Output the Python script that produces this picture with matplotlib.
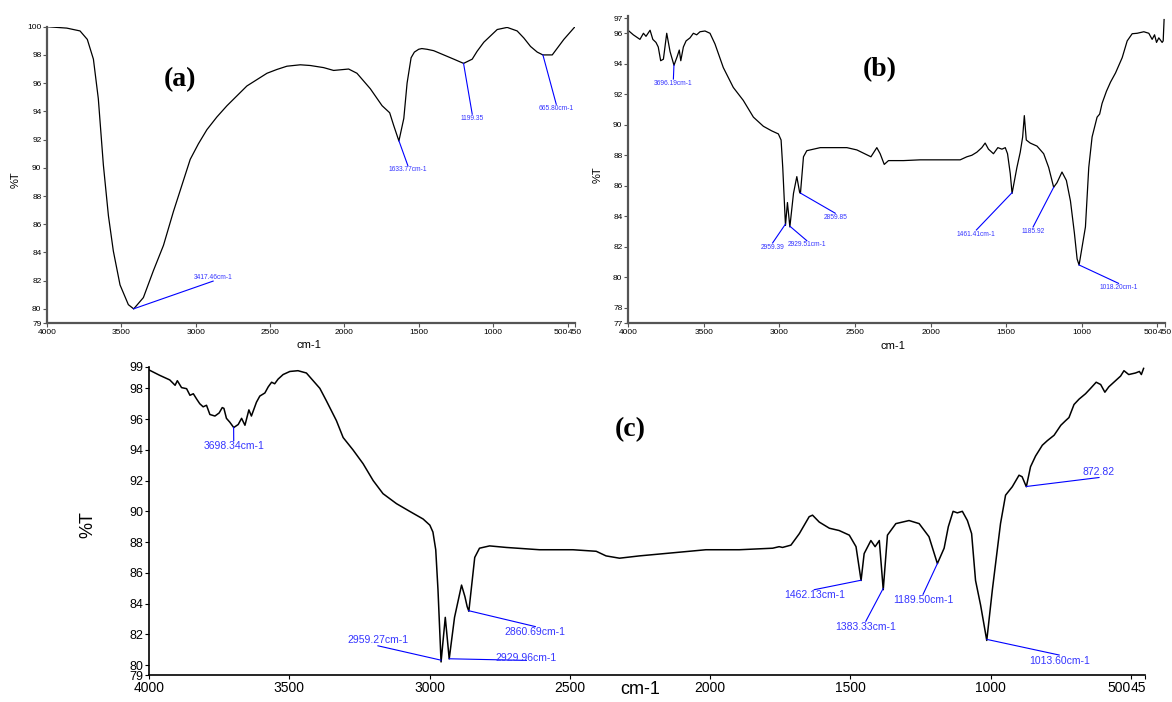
import numpy as np
import matplotlib
matplotlib.use("Agg")
import matplotlib.pyplot as plt

plt.rcParams['font.family'] = ['Liberation Sans', 'DejaVu Sans']

# ---- spectrum (a)
wn_a = [4000, 3867, 3778, 3729, 3688, 3655, 3621, 3587, 3554, 3509, 3453, 3417,
        3352, 3285, 3217, 3150, 3037, 2982, 2925, 2858, 2790, 2723, 2656, 2521,
        2454, 2387, 2297, 2230, 2140, 2073, 1972, 1916, 1826, 1747, 1696, 1669,
        1634, 1601, 1579, 1552, 1530, 1501, 1480, 1445, 1400, 1355, 1265, 1199,
        1141, 1108, 1063, 973, 906, 839, 794, 749, 704, 666, 603, 525, 450]
t_a = [100.0, 99.9, 99.7, 99.1, 97.7, 94.9, 90.2, 86.6, 84.1, 81.7, 80.3, 80.0,
       80.8, 82.7, 84.5, 86.9, 90.6, 91.7, 92.7, 93.6, 94.4, 95.1, 95.8, 96.7,
       96.97, 97.2, 97.3, 97.25, 97.1, 96.9, 97.0, 96.7, 95.6, 94.4, 93.9, 93.0,
       91.9, 93.5, 96.0, 97.8, 98.2, 98.4, 98.45, 98.4, 98.3, 98.1, 97.7, 97.4,
       97.7, 98.26, 98.9, 99.8, 99.95, 99.7, 99.2, 98.6, 98.2, 98.0, 98.0, 99.1,
       100.0]

# ---- spectrum (b)
wn_b = [4000, 3965, 3921, 3898, 3881, 3854, 3836, 3815, 3800, 3784, 3766, 3744,
        3722, 3696, 3674, 3661, 3651, 3634, 3616, 3590, 3568, 3546, 3524, 3491,
        3458, 3425, 3370, 3304, 3238, 3171, 3105, 3050, 3006, 2988, 2977, 2959,
        2946, 2930, 2906, 2884, 2866, 2860, 2840, 2818, 2729, 2553, 2487, 2394,
        2355, 2333, 2306, 2278, 2179, 2069, 1959, 1848, 1804, 1760, 1727, 1694,
        1661, 1639, 1617, 1584, 1555, 1528, 1506, 1491, 1473, 1461, 1429, 1407,
        1391, 1380, 1367, 1341, 1296, 1252, 1219, 1186, 1164, 1131, 1102, 1075,
        1049, 1031, 1018, 976, 954, 932, 899, 882, 866, 837, 810, 777, 733, 700,
        667, 634, 590, 557, 535, 519, 506, 491, 469, 462, 456]
t_b = [96.2, 95.9, 95.6, 96.0, 95.8, 96.2, 95.6, 95.4, 95.1, 94.2, 94.3, 96.0,
       94.8, 93.9, 94.5, 94.9, 94.2, 95.1, 95.5, 95.7, 96.0, 95.9, 96.1, 96.15,
       96.0, 95.3, 93.75, 92.45, 91.6, 90.5, 89.9, 89.6, 89.4, 89.0, 87.2, 83.4,
       84.9, 83.3, 85.5, 86.6, 85.6, 85.5, 87.9, 88.3, 88.5, 88.5, 88.35, 87.9,
       88.5, 88.1, 87.4, 87.65, 87.65, 87.7, 87.7, 87.7, 87.7, 87.9, 88.0, 88.2,
       88.5, 88.8, 88.4, 88.1, 88.5, 88.4, 88.5, 88.1, 86.8, 85.5, 87.2, 88.2,
       89.2, 90.6, 89.0, 88.8, 88.6, 88.1, 87.2, 85.9, 86.2, 86.9, 86.35, 85.0,
       82.9, 81.2, 80.8, 83.3, 87.2, 89.2, 90.5, 90.7, 91.4, 92.2, 92.8, 93.4,
       94.4, 95.5, 95.97, 96.0, 96.1, 96.0, 95.6, 95.9, 95.4, 95.7, 95.4, 95.5,
       96.9]

# ---- spectrum (c)
wn_c = [4000, 3962, 3926, 3907, 3899, 3884, 3866, 3854, 3842, 3830, 3819, 3807,
        3795, 3783, 3765, 3750, 3739, 3733, 3724, 3712, 3698, 3682, 3670, 3658,
        3644, 3635, 3617, 3605, 3587, 3575, 3563, 3552, 3540, 3522, 3498, 3469,
        3439, 3415, 3391, 3368, 3332, 3308, 3273, 3237, 3201, 3166, 3118, 3071,
        3023, 2999, 2988, 2978, 2970, 2959, 2944, 2930, 2911, 2886, 2874, 2866,
        2860, 2849, 2839, 2822, 2786, 2727, 2608, 2489, 2406, 2371, 2323, 2252,
        2134, 2015, 1896, 1777, 1754, 1742, 1712, 1682, 1647, 1635, 1611, 1575,
        1540, 1504, 1480, 1462, 1451, 1427, 1412, 1397, 1383, 1368, 1338, 1291,
        1255, 1220, 1190, 1166, 1151, 1134, 1119, 1101, 1083, 1068, 1054, 1036,
        1014, 994, 965, 947, 923, 899, 888, 873, 858, 840, 816, 798, 774, 750,
        733, 721, 703, 685, 662, 644, 624, 608, 593, 579, 555, 537, 525, 508,
        484, 470, 463, 455]
t_c = [99.2, 98.85, 98.55, 98.2, 98.5, 98.05, 97.98, 97.55, 97.65, 97.3, 97.0,
       96.8, 96.9, 96.3, 96.2, 96.4, 96.75, 96.7, 96.05, 95.8, 95.45, 95.65,
       96.05, 95.6, 96.6, 96.2, 97.1, 97.5, 97.7, 98.1, 98.4, 98.3, 98.6, 98.9,
       99.1, 99.15, 99.0, 98.5, 98.0, 97.2, 95.9, 94.8, 94.0, 93.1, 92.0, 91.15,
       90.5, 90.0, 89.5, 89.1, 88.65, 87.5, 84.9, 80.2, 83.1, 80.4, 83.1, 85.2,
       84.45, 83.8, 83.5, 85.3, 87.0, 87.6, 87.75, 87.65, 87.5, 87.5, 87.4, 87.1,
       86.95, 87.1, 87.3, 87.5, 87.5, 87.6, 87.7, 87.65, 87.8, 88.55, 89.65,
       89.75, 89.3, 88.9, 88.75, 88.45, 87.7, 85.5, 87.25, 88.1, 87.7, 88.1, 84.9,
       88.45, 89.2, 89.4, 89.2, 88.35, 86.6, 87.6, 89.0, 90.0, 89.9, 90.0, 89.4,
       88.55, 85.5, 83.9, 81.6, 84.9, 89.2, 91.05, 91.6, 92.35, 92.25, 91.6, 92.9,
       93.6, 94.3, 94.6, 94.95, 95.6, 95.9, 96.1, 96.95, 97.3, 97.65, 98.0, 98.4,
       98.25, 97.75, 98.1, 98.5, 98.8, 99.15, 98.9, 99.0, 99.1, 98.9, 99.3]

# peak labels: (wavenumber, text, line end x, line end y, text placement)
peaks_a = [(3417.46, "3417.46cm-1", 2883, 81.97, 'above'),
           (1633.77, "1633.77cm-1", 1574, 90.16, 'below'),
           (1199.35, "1199.35", 1141, 93.8, 'below'),
           (665.80, "665.80cm-1", 576, 94.5, 'below')]
peaks_b = [(3696.19, "3696.19cm-1", 3700, 93.0, 'below'),
           (2959.39, "2959.39", 3044, 82.25, 'below'),
           (2929.51, "2929.51cm-1", 2818, 82.4, 'below'),
           (2859.85, "2859.85", 2630, 84.2, 'below'),
           (1461.41, "1461.41cm-1", 1697, 83.1, 'below'),
           (1185.92, "1185.92", 1322, 83.3, 'below'),
           (1018.20, "1018.20cm-1", 757, 79.6, 'below')]
peaks_c = [(3698.34, "3698.34cm-1", 3698, 94.6, 'below'),
           (2959.27, "2959.27cm-1", 3184, 81.25, 'above'),
           (2929.96, "2929.96cm-1", 2655, 80.3, 'on'),
           (2860.69, "2860.69cm-1", 2623, 82.5, 'below'),
           (1462.13, "1462.13cm-1", 1629, 84.9, 'below'),
           (1383.33, "1383.33cm-1", 1445, 82.85, 'below'),
           (1189.50, "1189.50cm-1", 1241, 84.6, 'below'),
           (1013.60, "1013.60cm-1", 756, 80.65, 'below'),
           (872.82, "872.82", 614, 92.2, 'above')]

xticks = [4000, 3500, 3000, 2500, 2000, 1500, 1000, 500, 450]
xlabels = ["4000", "3500", "3000", "2500", "2000", "1500", "1000", "500", ""]

W, H = 1172, 702
fig = plt.figure(figsize=(W / 100, H / 100), dpi=100)


def box(l, t, r, b):
    return [l / W, 1 - b / H, (r - l) / W, (b - t) / H]


def draw(ax, wn, t, peaks, ylim, yticks, ylabels, fs, yfs, afs, lw, spine_c,
         spine_w, last_label):
    ax.plot(wn, t, color='black', lw=lw)
    ax.set_xlim(4000, 450)
    ax.set_ylim(*ylim)
    for s in ['top', 'right']:
        ax.spines[s].set_visible(False)
    for s in ['left', 'bottom']:
        ax.spines[s].set_color(spine_c)
        ax.spines[s].set_linewidth(spine_w)
    ax.set_xticks(xticks)
    ax.set_xticklabels(xlabels)
    ax.set_yticks(yticks)
    ax.set_yticklabels(ylabels)
    ax.tick_params(labelsize=fs, length=3, width=0.8, pad=1, color=spine_c)
    ax.tick_params(axis='y', labelsize=yfs)
    ax.get_xticklabels()[7].set_ha('right')
    ax.annotate(last_label, xy=(500, 0), xycoords=('data', 'axes fraction'),
                xytext=(0, -4), textcoords='offset points', ha='left',
                va='top', fontsize=fs)
    wr, tr = np.array(wn)[::-1], np.array(t)[::-1]
    for w, txt, ex, ey, where in peaks:
        py = np.interp(w, wr, tr)
        ax.plot([w, ex], [py, ey], color='#0000ff', lw=0.8)
        if where == 'below':
            va, dy = 'top', -0.5
        elif where == 'above':
            va, dy = 'bottom', 0.3
        else:
            va, dy = 'center', 2
        ax.annotate(txt, xy=(ex, ey), xytext=(0, dy), textcoords='offset points',
                    ha='center', va=va, fontsize=afs, color='#3535ff')


ax_a = fig.add_axes(box(47, 26.7, 575, 323))
draw(ax_a, wn_a, t_a, peaks_a, (79, 100),
     [79, 80, 82, 84, 86, 88, 90, 92, 94, 96, 98, 100],
     ["79", "80", "82", "84", "86", "88", "90", "92", "94", "96", "98", "100"],
     6, 6, 4.8, 0.9, '#555555', 1.6, "450")

ax_b = fig.add_axes(box(628, 16.5, 1165, 323))
draw(ax_b, wn_b, t_b, peaks_b, (77, 97.1),
     [77, 78, 80, 82, 84, 86, 88, 90, 92, 94, 96, 97],
     ["77", "78", "80", "82", "84", "86", "88", "90", "92", "94", "96", "97"],
     6, 6, 4.8, 0.9, '#555555', 1.6, "450")

ax_c = fig.add_axes(box(149, 366.7, 1145, 675))
draw(ax_c, wn_c, t_c, peaks_c, (79.35, 99.41),
     [79.35, 80, 82, 84, 86, 88, 90, 92, 94, 96, 98, 99.41],
     ["79", "80", "82", "84", "86", "88", "90", "92", "94", "96", "98", "99"],
     10, 9, 7.5, 1.1, 'black', 1.2, "45")

# axis titles
fig.text(16 / W, 1 - 180 / H, "%T", rotation=90, ha='center', va='center', fontsize=8)
fig.text(309 / W, 1 - 345 / H, "cm-1", ha='center', va='center', fontsize=8)
fig.text(598 / W, 1 - 175 / H, "%T", rotation=90, ha='center', va='center', fontsize=8)
fig.text(893 / W, 1 - 346 / H, "cm-1", ha='center', va='center', fontsize=8)
fig.text(88 / W, 1 - 525 / H, "%T", rotation=90, ha='center', va='center', fontsize=13)
fig.text(640 / W, 1 - 690 / H, "cm-1", ha='center', va='center', fontsize=13)

# panel letters
for x, y, s in [(180, 80, "(a)"), (880, 70, "(b)"), (630, 430, "(c)")]:
    fig.text(x / W, 1 - y / H, s, ha='center', va='center', fontsize=20,
             fontweight='bold', family=['Liberation Serif', 'DejaVu Serif'])

fig.savefig("out.png", dpi=100)
